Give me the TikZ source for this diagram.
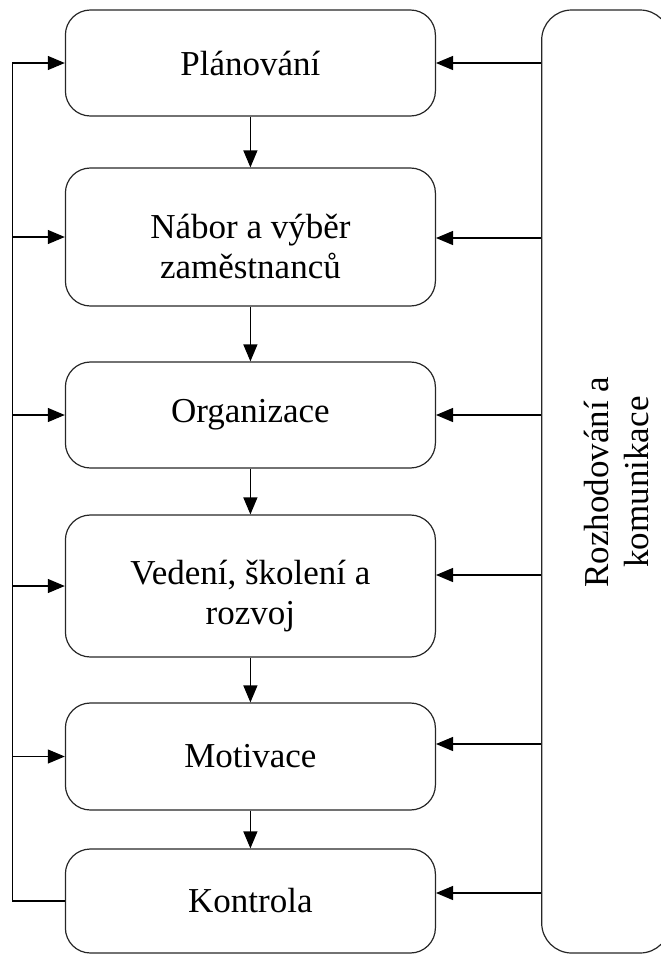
\documentclass[tikz,border=0pt]{standalone}
\usepackage{fontspec}
\setmainfont{Liberation Serif}
\usetikzlibrary{arrows.meta}
\newcommand{\topstrut}{\rule{0pt}{44pt}}
\begin{document}
\begin{tikzpicture}[x=1pt,y=-1pt,
  proc/.style={draw=black!85, line width=1.2pt, rounded corners=25pt, minimum width=370pt, inner sep=0pt, align=center, font=\fontsize{35}{40}\selectfont},
  sidebox/.style={draw=black!85, line width=1.2pt, rounded corners=30pt, inner sep=0pt},
  sidetext/.style={rotate=90, align=center, inner sep=0pt, font=\fontsize{35}{40}\selectfont},
  arr/.style={line width=1.2pt, -{Triangle[length=17pt,width=14pt]}},
  ln/.style={line width=1.2pt}]
\useasboundingbox (0,0) rectangle (661,954);
\clip (0,0) rectangle (661,954);
% process boxes
\node[proc, minimum height=106pt] (plan)  at (250.4,63)   {Plánování};
\node[proc, minimum height=138pt] (nabor) at (250.4,237)  {\topstrut Nábor a výběr\\zaměstnanců};
\node[proc, minimum height=106pt] (org)   at (250.4,415)  {Organizace};
\node[proc, minimum height=142pt] (ved)   at (250.4,586)  {\topstrut Vedení, školení a\\rozvoj};
\node[proc, minimum height=107pt] (mot)   at (250.4,756.5){Motivace};
\node[proc, minimum height=104pt] (kon)   at (250.4,901)  {Kontrola};
% side box
\node[sidebox, minimum width=128.3pt, minimum height=943pt] (rc) at (605.85,481.5) {};
\node[sidetext] (rctext) at (616,482) {Rozhodování a\\komunikace};
% vertical flow
\draw[arr] (plan.south)  -- (nabor.north);
\draw[arr] (nabor.south) -- (org.north);
\draw[arr] (org.south)   -- (ved.north);
\draw[arr] (ved.south)   -- (mot.north);
\draw[arr] (mot.south)   -- (kon.north);
% left feedback
\coordinate (L) at (12.3,63);
\draw[arr] (kon.west) -| (L) -- (plan.west);
\foreach \n in {nabor,org,ved,mot} \draw[arr] (L |- \n.west) -- (\n.west);
% right arrows
\coordinate (r1) at (0,63);
\coordinate (r2) at (0,238);
\coordinate (r3) at (0,415);
\coordinate (r4) at (0,575);
\coordinate (r5) at (0,744);
\coordinate (r6) at (0,893);
\draw[arr] (rc.west |- r1) -- (plan.east |- r1);
\draw[arr] (rc.west |- r2) -- (nabor.east |- r2);
\draw[arr] (rc.west |- r3) -- (org.east |- r3);
\draw[arr] (rc.west |- r4) -- (ved.east |- r4);
\draw[arr] (rc.west |- r5) -- (mot.east |- r5);
\draw[arr] (rc.west |- r6) -- (kon.east |- r6);
\end{tikzpicture}
\end{document}
